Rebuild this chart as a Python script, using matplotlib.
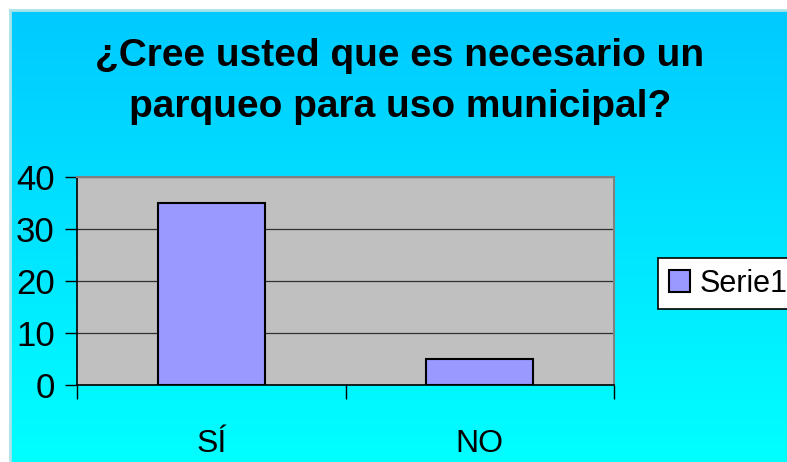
import numpy as np
import matplotlib
matplotlib.use("Agg")
import matplotlib.pyplot as plt
from matplotlib.patches import Rectangle

categories = ["SÍ", "NO"]
values = [35, 5]
series_name = "Serie1"
yticks = [0, 10, 20, 30, 40]
title_lines = ["¿Cree usted que es necesario un", "parqueo para uso municipal?"]

W, H = 787, 462
fig = plt.figure(figsize=(W / 100, H / 100), dpi=100)
plt.rcParams['font.family'] = ['Liberation Sans', 'DejaVu Sans']

# background gradient (blue top -> cyan bottom)
bg = fig.add_axes([0, 0, 1, 1], zorder=-10)
grad = np.linspace(0, 1, 256)[:, None]
top = np.array([0, 200, 255]) / 255
bot = np.array([0, 255, 255]) / 255
img = top[None, None, :] * (1 - grad[:, :, None]) + bot[None, None, :] * grad[:, :, None]
img = np.repeat(img, 2, axis=1)
bg.imshow(img, aspect='auto', extent=[0, 1, 0, 1], origin='upper')
# white scanned margins with light border
bg.add_patch(Rectangle((0, 0), 10 / W, 1, color='white', zorder=3))
bg.add_patch(Rectangle((0, 1 - 10 / H), 1, 10 / H, color='white', zorder=3))
bg.plot([10 / W, 10 / W], [0, 1 - 10 / H], color='#a8e4ea', lw=2, zorder=4)
bg.plot([10 / W, 1], [1 - 10 / H, 1 - 10 / H], color='#a8e4ea', lw=2, zorder=4)
bg.set_xlim(0, 1)
bg.set_ylim(0, 1)
bg.axis('off')

# title
fig.text(400 / W, 1 - 56 / H, title_lines[0], ha='center', va='center',
         fontsize=28, fontweight='bold', color='black')
fig.text(400 / W, 1 - 107 / H, title_lines[1], ha='center', va='center',
         fontsize=28, fontweight='bold', color='black')

ax = fig.add_axes([77 / W, 1 - 385 / H, (614 - 77) / W, (385 - 177) / H])
ax.set_facecolor('#c0c0c0')
x = np.arange(len(categories))
bars = ax.bar(x, values, width=0.4, color='#9999ff', edgecolor='black',
              linewidth=1.5, label=series_name, zorder=3)
ax.set_xlim(-0.5, len(categories) - 0.5)
ax.set_ylim(0, 40)
ax.set_yticks(yticks)
ax.set_yticklabels([str(t) for t in yticks], fontsize=25)
ax.yaxis.grid(True, color='#303030', linewidth=0.9, zorder=1)
ax.set_axisbelow(True)
ax.tick_params(axis='y', direction='out', length=9, width=1, color='black', pad=7)

ax.set_xticks(x)
ax.set_xticklabels(categories, fontsize=23)
ax.tick_params(axis='x', which='major', length=0, pad=32)
ax.set_xticks(np.arange(-0.5, len(categories), 1.0), minor=True)
ax.tick_params(axis='x', which='minor', direction='out', length=10, width=1, color='black')

for s in ['top', 'right']:
    ax.spines[s].set_color('#808080')
    ax.spines[s].set_linewidth(1.5)
for s in ['left', 'bottom']:
    ax.spines[s].set_color('black')
    ax.spines[s].set_linewidth(1.2)

leg = fig.legend(handles=[bars], labels=[series_name], loc='upper left',
                 bbox_to_anchor=(658 / W, 1 - 258 / H), fontsize=22,
                 frameon=True, fancybox=False, edgecolor='black', framealpha=1,
                 handlelength=0.7, handleheight=0.7, handletextpad=0.3,
                 borderpad=0.35, borderaxespad=0)
leg.get_frame().set_linewidth(1.2)
leg.get_frame().set_facecolor('white')

fig.savefig('out.png', dpi=100)
